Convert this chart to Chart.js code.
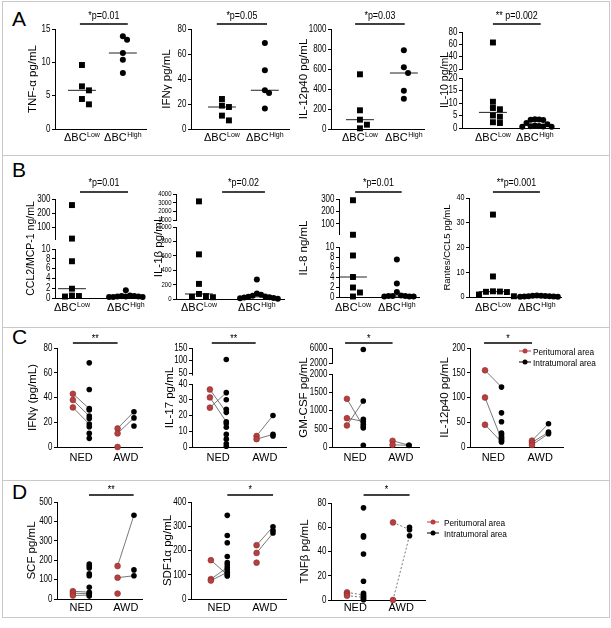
<!DOCTYPE html>
<html>
<head>
<meta charset="utf-8">
<title>Cytokine levels by group</title>
<script src="https://cdn.jsdelivr.net/npm/chart.js@4.4.1/dist/chart.umd.min.js"></script>
<style>
  body { margin: 0; background: #fff; }
  #fig { position: relative; width: 611px; height: 628px; overflow: hidden; font-family: 'Liberation Sans', Arial, sans-serif; }
  #fig canvas { position: absolute; }
  .frame { position: absolute; border: 1px solid #c9c9c9; box-sizing: border-box; }
  .rule { position: absolute; left: 2px; width: 607px; height: 1px; background: #c9c9c9; }
  .letter { position: absolute; left: 12px; font-size: 21px; line-height: 20px; color: #000; }
</style>
</head>
<body>
<div id="fig">
  <div class="frame" style="left:2px;top:1px;width:608px;height:617px"></div>
  <div class="rule" style="top:155px"></div>
  <div class="rule" style="top:327px"></div>
  <div class="rule" style="top:480px"></div>
  <div class="letter" style="top:9px">A</div>
  <div class="letter" style="top:160px">B</div>
  <div class="letter" style="top:327px">C</div>
  <div class="letter" style="top:482px">D</div>
</div>
<script>
const FONT = "'Liberation Sans', Arial, sans-serif";
const RED = '#b5403f';
Chart.defaults.font.family = FONT;
Chart.defaults.color = '#000';

// Panel A: ΔBC low vs high (one value per patient)
const tnfLow = [9.6, 6.4, 5.8, 4.5, 3.7];
const tnfHigh = [13.9, 13.4, 11.4, 10.4, 8.4];
const ifngLow = [24, 18.7, 17.6, 10.7, 6.9];
const ifngHigh = [68.8, 47, 31, 28.8, 16.5];
const il12Low = [547, 187, 93, 43, 7];
const il12High = [787, 617, 560, 383, 303];
const il10Low = [63, 10.5, 8, 7.5, 5, 4.5, 2.3, 2];
const il10High = [3.5, 3.4, 3.3, 3.2, 2.0, 1.5, 1.0, 0.8, 0.7, 0.6, 0.5, 0.5];

// Panel B
const ccl2Low = [257, 20, 7.5, 1.9, 0.5, 0.4, 0.3];
const ccl2High = [1.6, 0.5, 0.4, 0.4, 0.3, 0.3, 0.3, 0.2, 0.2, 0.2];
const il1bLow = [3150, 620, 210, 70, 40, 30, 25];
const il1bHigh = [270, 75, 60, 45, 35, 30, 25, 20, 15, 10, 5];
const il8Low = [290, 12, 8.3, 4, 1.9, 0.9, 0.1];
const il8High = [7.5, 2.7, 1.0, 0.3, 0.2, 0.2, 0.2, 0.1, 0.1, 0.1];
const rantesLow = [33.3, 8.3, 2.3, 2.2, 2.1, 2.0, 1.0, 0.3];
const rantesHigh = [0.6, 0.5, 0.5, 0.4, 0.3, 0.3, 0.2, 0.2, 0.1, 0.1];

// Panels C and D: one row per patient, [peritumoral, intratumoral], null = not paired
const ifngNed = [[43, 31], [38, 25], [32, 18.5], [null, 68], [null, 46.5], [null, 30], [null, 23], [null, 16.4], [null, 11], [null, 7]];
const ifngAwd = [[15, 28.5], [11, 23.5], [0, null], [null, 17]];
const il17Ned = [[36.5, 22], [31.5, 16], [25, 34.5], [null, 104], [null, 30], [null, 24], [null, 15], [null, 12.5], [null, 8], [null, 5], [null, 2], [null, 0.5]];
const il17Awd = [[7, 20], [5, 8], [null, 7]];
const gmcsfNed = [[1320, 560], [790, 700], [590, 1260], [null, 5600], [null, 760], [null, 620], [null, 520], [null, 50]];
const gmcsfAwd = [[170, 50], [60, 45]];
const il12Ned = [[155, 121], [100, 15], [45, 10], [null, 69], [null, 51], [null, 28], [null, 24], [null, 20], [null, 18], [null, 12]];
const il12Awd = [[13, 47], [9, 30], [4, 27]];
const scfNed = [[40, 35], [30, 27], [18, 20], [null, 180], [null, 170], [null, 160], [null, 130], [null, 120], [null, 60], [null, 15]];
const scfAwd = [[170, 432], [110, 120], [28, null], [null, 150]];
const sdfNed = [[160, 100], [82, 130], [76, 110], [null, 345], [null, 262], [null, 232], [null, 175], [null, 150], [null, 140], [null, 120], [null, 95]];
const sdfAwd = [[222, 298], [190, 272], [150, null], [null, 282]];
const tnfbNed = [[6.3, 4.1], [5, null], [3.6, 2.2], [null, 76], [null, 53], [null, 52], [null, 38], [null, 15.5], [null, 5.5], [null, 3.3], [null, 1.1], [null, 0.3]];
const tnfbAwd = [[64, 58], [0, 53], [null, 60]];

// page geometry of each row of panels
const rows = {
  A: { top: 2, bottom: 150, label: 141, barY: 24, textY: 19 },
  B: { top: 157, bottom: 318, label: 311, barY: 192, textY: 186 },
  C: { top: 329, bottom: 472, label: 461, barY: 343, textY: 342 },
  D: { top: 482, bottom: 616, label: 611, barY: 495, textY: 493 }
};

const panels = [
  { row: 'A', kind: 'dot', title: 'TNF-α pg/mL', titleX: 33, axis: 56, top: 29, bottom: 129, right: 147, c1: 82, c2: 123,
    ticks: [[0, 5, 10, 15]], groups: [tnfLow, tnfHigh], bar: [0.95, 2.12], sig: '*p=0.01' },
  { row: 'A', kind: 'dot', title: 'IFNγ pg/mL', titleX: 167, axis: 192, top: 29, bottom: 129, right: 290, c1: 222, c2: 265,
    ticks: [[0, 20, 40, 60, 80]], groups: [ifngLow, ifngHigh], bar: [0.88, 2.05], sig: '*p=0.05' },
  { row: 'A', kind: 'dot', title: 'IL-12p40 pg/mL', titleX: 304, axis: 332, top: 29, bottom: 129, right: 425, c1: 360, c2: 404,
    ticks: [[0, 200, 400, 600, 800, 1000]], groups: [il12Low, il12High], bar: [0.89, 2.02], sig: '*p=0.03' },
  { row: 'A', kind: 'dot', title: 'IL-10 pg/mL', titleSize: 10.5, titleX: 445, axis: 463, top: 32, bottom: 128, right: 560, c1: 493, c2: 535,
    segs: [{ lo: 0, hi: 20, d0: 0, d1: 50 }, { lo: 20, hi: 80, d0: 59, d1: 96 }],
    ticks: [[0, 5, 10, 15, 20], [20, 40, 60, 80]], groups: [il10Low, il10High], bar: [1.0, 2.14], sig: '** p=0.002' },

  { row: 'B', kind: 'dot', title: 'CCL2/MCP-1 ng/mL', titleSize: 10.5, titleX: 31, axis: 56, top: 199, bottom: 298, right: 143, c1: 72, c2: 126,
    segs: [{ lo: 0, hi: 10, d0: 0, d1: 49 }, { lo: 10, hi: 300, d0: 58, d1: 99 }],
    ticks: [[0, 2, 4, 6, 8, 10], [100, 200, 300]], groups: [ccl2Low, ccl2High], bar: [1.15, 2.04], sig: '*p=0.01' },
  { row: 'B', kind: 'dot', title: 'IL-1β pg/mL', titleX: 159, axis: 177, top: 194, bottom: 299, right: 285, c1: 199, c2: 257, tickSize: 7.5,
    segs: [{ lo: 0, hi: 1000, d0: 0, d1: 72 }, { lo: 1000, hi: 4000, d0: 79, d1: 105 }],
    ticks: [[0, 200, 400, 600, 800, 1000], [1000, 2000, 3000, 4000]], groups: [il1bLow, il1bHigh], bar: [1.4, 2.14], sig: '*p=0.02' },
  { row: 'B', kind: 'dot', title: 'IL-8 ng/mL', titleX: 304, axis: 340, top: 199, bottom: 297, right: 420, c1: 353, c2: 397,
    segs: [{ lo: 0, hi: 10, d0: 0, d1: 50 }, { lo: 10, hi: 300, d0: 62, d1: 98 }],
    ticks: [[0, 2, 4, 6, 8, 10], [100, 200, 300]], groups: [il8Low, il8High], bar: [1.05, 2.11], sig: '*p=0.01' },
  { row: 'B', kind: 'dot', title: 'Rantes/CCL5 pg/mL', titleSize: 9.5, titleX: 447, axis: 470, top: 198, bottom: 297, right: 562, c1: 493, c2: 537, tickSize: 9,
    ticks: [[0, 10, 20, 30, 40]], groups: [rantesLow, rantesHigh], bar: [1.0, 2.07], sig: '**p=0.001' },

  { row: 'C', kind: 'pair', title: 'IFNγ (pg/mL)', titleX: 33, axis: 58, top: 348, bottom: 447, right: 143, c1: 73, c2: 118,
    ticks: [[0, 20, 40, 60, 80]], groups: [ifngNed, ifngAwd], bar: [1, 2], sig: '**' },
  { row: 'C', kind: 'pair', title: 'IL-17 pg/mL', titleX: 170, axis: 193, top: 348, bottom: 447, right: 287, c1: 210, c2: 257,
    segs: [{ lo: 0, hi: 40, d0: 0, d1: 63 }, { lo: 40, hi: 150, d0: 71.5, d1: 99 }],
    ticks: [[0, 10, 20, 30, 40], [50, 100, 150]], groups: [il17Ned, il17Awd], bar: [1.04, 1.98], sig: '**' },
  { row: 'C', kind: 'pair', title: 'GM-CSF pg/mL', titleX: 304, axis: 333, top: 348, bottom: 447, right: 420, c1: 347, c2: 393,
    segs: [{ lo: 0, hi: 2000, d0: 0, d1: 73 }, { lo: 2000, hi: 6000, d0: 84, d1: 99 }],
    ticks: [[0, 500, 1000, 1500, 2000], [2000, 6000]], groups: [gmcsfNed, gmcsfAwd], bar: [0.96, 2.0], sig: '*' },
  { row: 'C', kind: 'pair', title: 'IL-12p40 pg/mL', titleX: 445, axis: 471, top: 348, bottom: 447, right: 563, c1: 485, c2: 532,
    ticks: [[0, 50, 100, 150, 200]], groups: [il12Ned, il12Awd], bar: [0.98, 2.0], sig: '*',
    canvasRight: 608, legend: { x: 525, y: [351, 362], gap: 8 } },

  { row: 'D', kind: 'pair', title: 'SCF pg/mL', titleX: 32, axis: 58, top: 502, bottom: 599, right: 143, c1: 73, c2: 118,
    ticks: [[0, 100, 200, 300, 400, 500]], groups: [scfNed, scfAwd], bar: [1.36, 2.36], sig: '**' },
  { row: 'D', kind: 'pair', title: 'SDF1α pg/mL', titleX: 168, axis: 192, top: 502, bottom: 599, right: 287, c1: 211, c2: 257,
    ticks: [[0, 100, 200, 300, 400]], groups: [sdfNed, sdfAwd], bar: [1.36, 2.36], sig: '*' },
  { row: 'D', kind: 'pair', title: 'TNFβ pg/mL', titleX: 305, axis: 332, top: 503, bottom: 600, right: 425, c1: 347, c2: 393,
    ticks: [[0, 20, 40, 60, 80]], groups: [tnfbNed, tnfbAwd], bar: [1.36, 2.36], sig: '*', dashed: true,
    canvasRight: 608, legend: { x: 433, y: [522, 533], gap: 11 } }
];

function median(vals) {
  const s = [...vals].sort((a, b) => a - b), n = s.length;
  return n % 2 ? s[(n - 1) / 2] : (s[n / 2 - 1] + s[n / 2]) / 2;
}

// value -> display units (pixels above the x axis), piecewise for broken axes
function toDisplay(segs, v) {
  for (const s of segs) {
    if (v <= s.hi) return s.d0 + (Math.max(v, s.lo) - s.lo) / (s.hi - s.lo) * (s.d1 - s.d0);
  }
  return segs[segs.length - 1].d1;
}

// simple column scatter: spread points sideways when they would overlap
function swarm(vals, center, segs, pxPerX, diam, step) {
  const placed = [], out = [];
  vals.map((v, i) => i).sort((a, b) => vals[b] - vals[a]).forEach(i => {
    const py = toDisplay(segs, vals[i]);
    for (let k = 0; k < 40; k++) {
      const slot = k === 0 ? 0 : (k % 2 ? (k + 1) / 2 : -k / 2);
      const px = slot * step;
      const hit = placed.some(q => Math.abs(q.py - py) < diam && Math.abs(q.px - px) < step * 0.9);
      if (!hit) {
        placed.push({ px, py });
        out[i] = { x: center + px / pxPerX, y: py };
        break;
      }
    }
  });
  return out;
}

// the figure uses a condensed sans; squeeze Liberation Sans horizontally
function narrowText(ctx, text, x, y, size, align, sx) {
  ctx.save();
  ctx.translate(x, y);
  ctx.scale(sx, 1);
  ctx.font = `${size}px ${FONT}`;
  ctx.textAlign = align;
  ctx.fillText(text, 0, 0);
  ctx.restore();
}

const fig = document.getElementById('fig');

function buildPanel(p) {
  const row = rows[p.row];
  const t0 = p.ticks[0];
  const segs = p.segs || [{ lo: t0[0], hi: t0[t0.length - 1], d0: 0, d1: p.bottom - p.top }];
  const dMax = segs[segs.length - 1].d1;
  const tickList = p.ticks.flatMap((vals, si) => vals.map(v => {
    const s = segs[si];
    return { d: s.d0 + (v - s.lo) / (s.hi - s.lo) * (s.d1 - s.d0), label: String(v) };
  }));
  const sp = p.c2 - p.c1;
  const xMin = 1 - (p.c1 - p.axis) / sp;
  const xMax = 2 + (p.right - p.c2) / sp;
  const cl = p.axis - 45, ct = row.top, cr = p.canvasRight || p.right + 4, cb = row.bottom;

  const datasets = [];
  let labels;
  if (p.kind === 'dot') {
    const [lo, hi] = p.groups;
    datasets.push({ data: swarm(lo, 1, segs, sp, 6, 7), pointStyle: 'rect', pointRadius: 4.2,
      pointBackgroundColor: '#000', pointBorderWidth: 0, clip: false });
    datasets.push({ data: swarm(hi, 2, segs, sp, 6, 4.2), pointStyle: 'circle', pointRadius: 3,
      pointBackgroundColor: '#000', pointBorderWidth: 0, clip: false });
    [lo, hi].forEach((g, i) => {
      const m = toDisplay(segs, median(g)), hw = 14 / sp;
      datasets.push({ data: [{ x: 1 + i - hw, y: m }, { x: 1 + i + hw, y: m }], showLine: true,
        borderColor: '#222', borderWidth: 1, pointRadius: 0, clip: false });
    });
    labels = [{ x: 1, main: 'ΔBC', sup: 'Low' }, { x: 2, main: 'ΔBC', sup: 'High' }];
  } else {
    const d = 16.5 / sp;
    const peri = [], intra = [], links = [];
    p.groups.forEach((patients, gi) => {
      const base = 1 + gi;
      patients.forEach(([a, b]) => {
        const pa = a === null ? null : { x: base, y: toDisplay(segs, a) };
        const pb = b === null ? null : { x: base + d, y: toDisplay(segs, b) };
        if (pa) peri.push(pa);
        if (pb) intra.push(pb);
        if (pa && pb) links.push([pa, pb]);
      });
    });
    datasets.push({ data: peri, pointRadius: 2.9, pointBackgroundColor: RED, pointBorderColor: '#8f2a2c',
      pointBorderWidth: 0.6, clip: false });
    datasets.push({ data: intra, pointRadius: 2.8, pointBackgroundColor: '#000', pointBorderWidth: 0, clip: false });
    links.forEach(l => datasets.push({ data: l, showLine: true, borderColor: '#555', borderWidth: 0.8,
      borderDash: p.dashed ? [2, 2] : [], pointRadius: 0, clip: false }));
    labels = [{ x: 1 + d / 2, main: 'NED' }, { x: 2 + d / 2, main: 'AWD' }];
  }

  // axis segments, tick labels, category labels, significance bar, legend
  const deco = {
    id: 'deco',
    afterDraw(chart) {
      const { ctx, scales: { x, y } } = chart;
      ctx.save();
      ctx.strokeStyle = '#000';
      ctx.fillStyle = '#000';
      ctx.lineWidth = 1;
      const ax = Math.round(x.left) - 0.5;
      segs.forEach(s => {
        ctx.beginPath();
        ctx.moveTo(ax, y.getPixelForValue(s.d0) + (s.d0 === 0 ? 0.5 : 0));
        ctx.lineTo(ax, y.getPixelForValue(s.d1));
        ctx.stroke();
      });

      ctx.textBaseline = 'middle';
      y.ticks.forEach((t, i) => {
        if (tickList[i]) narrowText(ctx, tickList[i].label, ax - 5, y.getPixelForValue(t.value), p.tickSize || 10, 'right', 0.8);
      });
      ctx.textBaseline = 'alphabetic';

      ctx.textAlign = 'left';
      labels.forEach(l => {
        ctx.font = `11px ${FONT}`;
        const w1 = ctx.measureText(l.main).width;
        let w2 = 0;
        if (l.sup) { ctx.font = `7px ${FONT}`; w2 = ctx.measureText(l.sup).width + 0.5; }
        const x0 = x.getPixelForValue(l.x) - (w1 + w2) / 2, yb = row.label - ct;
        ctx.font = `11px ${FONT}`;
        ctx.fillText(l.main, x0, yb);
        if (l.sup) { ctx.font = `7px ${FONT}`; ctx.fillText(l.sup, x0 + w1 + 0.5, yb - 4.5); }
      });

      const bx1 = x.getPixelForValue(p.bar[0]), bx2 = x.getPixelForValue(p.bar[1]), by = row.barY - ct;
      ctx.lineWidth = 1.4;
      ctx.beginPath();
      ctx.moveTo(bx1, by);
      ctx.lineTo(bx2, by);
      ctx.stroke();
      narrowText(ctx, p.sig, (bx1 + bx2) / 2, row.textY - ct, 10.5, 'center', 0.85);

      if (p.legend) {
        [['Peritumoral area', RED], ['Intratumoral area', '#000']].forEach(([t, c], i) => {
          const lx = p.legend.x - cl, ly = p.legend.y[i] - ct;
          ctx.strokeStyle = c;
          ctx.fillStyle = c;
          ctx.lineWidth = 1;
          ctx.beginPath();
          ctx.moveTo(lx - 6, ly);
          ctx.lineTo(lx + 6, ly);
          ctx.stroke();
          ctx.beginPath();
          ctx.arc(lx, ly, 2.5, 0, Math.PI * 2);
          ctx.fill();
          ctx.fillStyle = '#000';
          narrowText(ctx, t, lx + p.legend.gap, ly + 3.5, 9.5, 'left', 0.87);
        });
      }
      ctx.restore();
    }
  };

  const canvas = document.createElement('canvas');
  canvas.width = cr - cl;
  canvas.height = cb - ct;
  canvas.style.left = cl + 'px';
  canvas.style.top = ct + 'px';
  fig.appendChild(canvas);

  const titleSize = p.titleSize || 11.5;
  new Chart(canvas, {
    type: 'scatter',
    data: { datasets },
    options: {
      responsive: false,
      animation: false,
      events: [],
      layout: { padding: { top: p.top - ct, bottom: cb - p.bottom, left: 0, right: cr - p.right } },
      plugins: { legend: { display: false }, tooltip: { enabled: false } },
      scales: {
        x: {
          type: 'linear', min: xMin, max: xMax,
          ticks: { display: false },
          grid: { display: false },
          border: { color: '#000', width: 1 },
          afterFit: s => { s.height = 0; }
        },
        y: {
          type: 'linear', min: 0, max: dMax,
          afterBuildTicks: s => { s.ticks = tickList.map(t => ({ value: t.d })); },
          afterFit: s => { s.width = 45; },
          ticks: { display: false, autoSkip: false },
          grid: { drawOnChartArea: false, drawTicks: true, tickLength: 4, color: '#000', lineWidth: 1 },
          border: { display: false },
          title: {
            display: true, text: p.title, color: '#000', font: { size: titleSize },
            padding: { top: p.titleX - cl - titleSize * 0.6, bottom: 0 }
          }
        }
      }
    },
    plugins: [deco]
  });
}

panels.forEach(buildPanel);
</script>
</body>
</html>
